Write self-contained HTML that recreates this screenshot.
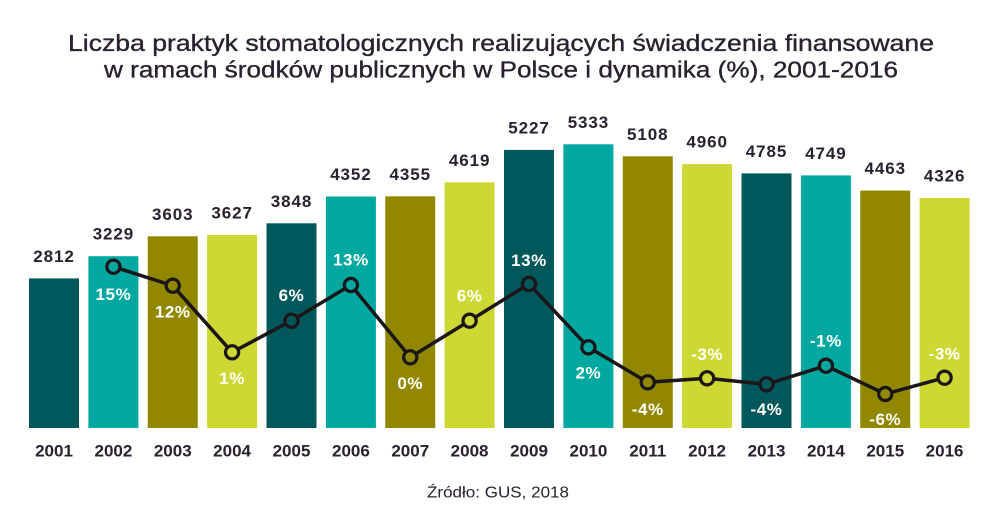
<!DOCTYPE html>
<html><head><meta charset="utf-8"><style>
html,body{margin:0;padding:0;background:#fff;}
svg{display:block;}
.v{font-family:"Liberation Sans",sans-serif;font-weight:bold;font-size:17px;fill:#2a2030;letter-spacing:0.9px;text-anchor:middle;}
.y{font-family:"Liberation Sans",sans-serif;font-weight:bold;font-size:17px;fill:#2a2030;text-anchor:middle;}
.p{font-family:"Liberation Sans",sans-serif;font-weight:bold;font-size:17px;fill:#fff;letter-spacing:0.6px;text-anchor:middle;}
.t{font-family:"Liberation Sans",sans-serif;font-size:23.5px;fill:#2a2030;stroke:#2a2030;stroke-width:0.35px;}
.s{font-family:"Liberation Sans",sans-serif;font-size:16px;fill:#2a2030;}
</style></head><body>
<svg width="1000" height="530" viewBox="0 0 1000 530" xmlns="http://www.w3.org/2000/svg">
<text class="t" x="68" y="51" textLength="866" lengthAdjust="spacingAndGlyphs">Liczba praktyk stomatologicznych realizujących świadczenia finansowane</text>
<text class="t" x="104" y="77.3" textLength="794" lengthAdjust="spacingAndGlyphs">w ramach środków publicznych w Polsce i dynamika (%), 2001-2016</text>

<g>
<rect x="29" y="278.4" width="50" height="149.6" fill="#00585a"/>
<rect x="88.4" y="256.2" width="50" height="171.8" fill="#00a8a0"/>
<rect x="147.75" y="236.3" width="50" height="191.7" fill="#918800"/>
<rect x="207.1" y="235.0" width="50" height="193.0" fill="#cdd834"/>
<rect x="266.5" y="223.3" width="50" height="204.7" fill="#00585a"/>
<rect x="325.9" y="196.5" width="50" height="231.5" fill="#00a8a0"/>
<rect x="385.25" y="196.3" width="50" height="231.7" fill="#918800"/>
<rect x="444.6" y="182.3" width="50" height="245.7" fill="#cdd834"/>
<rect x="504" y="149.9" width="50" height="278.1" fill="#00585a"/>
<rect x="563.4" y="144.3" width="50" height="283.7" fill="#00a8a0"/>
<rect x="622.75" y="156.3" width="50" height="271.7" fill="#918800"/>
<rect x="682.1" y="164.1" width="50" height="263.9" fill="#cdd834"/>
<rect x="741.5" y="173.4" width="50" height="254.6" fill="#00585a"/>
<rect x="800.9" y="175.4" width="50" height="252.6" fill="#00a8a0"/>
<rect x="860.25" y="190.6" width="50" height="237.4" fill="#918800"/>
<rect x="919.6" y="197.9" width="50" height="230.1" fill="#cdd834"/>
</g>

<g>
<text class="v" x="54" y="261.9">2812</text>
<text class="v" x="113.4" y="239.7">3229</text>
<text class="v" x="172.75" y="219.8">3603</text>
<text class="v" x="232.1" y="218.5">3627</text>
<text class="v" x="291.5" y="206.8">3848</text>
<text class="v" x="350.9" y="180">4352</text>
<text class="v" x="410.25" y="179.8">4355</text>
<text class="v" x="469.6" y="165.8">4619</text>
<text class="v" x="529" y="133.4">5227</text>
<text class="v" x="588.4" y="127.8">5333</text>
<text class="v" x="647.75" y="139.8">5108</text>
<text class="v" x="707.1" y="147.6">4960</text>
<text class="v" x="766.5" y="156.9">4785</text>
<text class="v" x="825.9" y="158.9">4749</text>
<text class="v" x="885.25" y="174.1">4463</text>
<text class="v" x="944.6" y="181.4">4326</text>
</g>

<polyline fill="none" stroke="#1c1519" stroke-width="3.5" stroke-linejoin="round" points="113.4,266.7 172.75,285.7 232.1,352.3 291.5,320.7 350.9,285 410.25,357.3 469.6,320.7 529,284 588.4,347.3 647.75,382.3 707.1,378.3 766.5,384.3 825.9,365.7 885.25,394 944.6,377.7"/>
<g stroke="#1c1519" stroke-width="3.2">
<circle cx="113.4" cy="266.7" r="6.6" fill="#00a8a0"/>
<circle cx="172.75" cy="285.7" r="6.6" fill="#918800"/>
<circle cx="232.1" cy="352.3" r="6.6" fill="#cdd834"/>
<circle cx="291.5" cy="320.7" r="6.6" fill="#00585a"/>
<circle cx="350.9" cy="285" r="6.6" fill="#00a8a0"/>
<circle cx="410.25" cy="357.3" r="6.6" fill="#918800"/>
<circle cx="469.6" cy="320.7" r="6.6" fill="#cdd834"/>
<circle cx="529" cy="284" r="6.6" fill="#00585a"/>
<circle cx="588.4" cy="347.3" r="6.6" fill="#00a8a0"/>
<circle cx="647.75" cy="382.3" r="6.6" fill="#918800"/>
<circle cx="707.1" cy="378.3" r="6.6" fill="#cdd834"/>
<circle cx="766.5" cy="384.3" r="6.6" fill="#00585a"/>
<circle cx="825.9" cy="365.7" r="6.6" fill="#00a8a0"/>
<circle cx="885.25" cy="394" r="6.6" fill="#918800"/>
<circle cx="944.6" cy="377.7" r="6.6" fill="#cdd834"/>
</g>

<g>
<text class="p" x="113.4" y="300">15%</text>
<text class="p" x="172.75" y="317.3">12%</text>
<text class="p" x="232.1" y="384">1%</text>
<text class="p" x="291.5" y="301">6%</text>
<text class="p" x="350.9" y="265.5">13%</text>
<text class="p" x="410.25" y="389">0%</text>
<text class="p" x="469.6" y="301.7">6%</text>
<text class="p" x="529" y="266">13%</text>
<text class="p" x="588.4" y="378.3">2%</text>
<text class="p" x="647.75" y="415">-4%</text>
<text class="p" x="707.1" y="360">-3%</text>
<text class="p" x="766.5" y="415">-4%</text>
<text class="p" x="825.9" y="346.7">-1%</text>
<text class="p" x="885.25" y="425">-6%</text>
<text class="p" x="944.6" y="359.3">-3%</text>
</g>

<g>
<text class="y" x="54" y="456.5">2001</text>
<text class="y" x="113.4" y="456.5">2002</text>
<text class="y" x="172.75" y="456.5">2003</text>
<text class="y" x="232.1" y="456.5">2004</text>
<text class="y" x="291.5" y="456.5">2005</text>
<text class="y" x="350.9" y="456.5">2006</text>
<text class="y" x="410.25" y="456.5">2007</text>
<text class="y" x="469.6" y="456.5">2008</text>
<text class="y" x="529" y="456.5">2009</text>
<text class="y" x="588.4" y="456.5">2010</text>
<text class="y" x="647.75" y="456.5">2011</text>
<text class="y" x="707.1" y="456.5">2012</text>
<text class="y" x="766.5" y="456.5">2013</text>
<text class="y" x="825.9" y="456.5">2014</text>
<text class="y" x="885.25" y="456.5">2015</text>
<text class="y" x="944.6" y="456.5">2016</text>
</g>

<text class="s" x="427" y="497.3" textLength="142" lengthAdjust="spacingAndGlyphs">Źródło: GUS, 2018</text>
</svg>
</body></html>
